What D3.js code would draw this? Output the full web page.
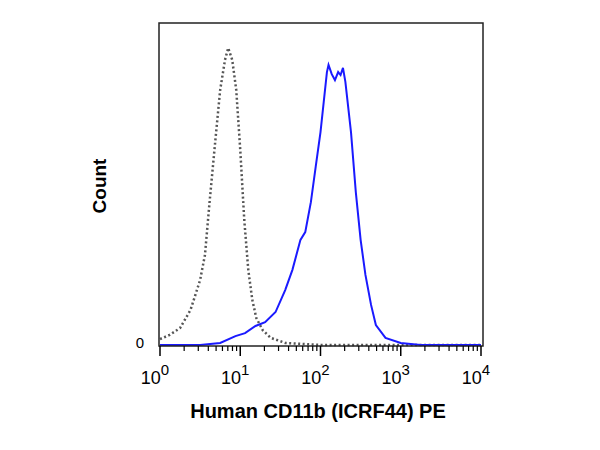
<!DOCTYPE html>
<html><head><meta charset="utf-8">
<script src="https://cdn.jsdelivr.net/npm/d3@7"></script>
<style>body{margin:0;background:#fff}</style>
</head><body>
<svg id="chart" width="600" height="450"></svg>
<script>
// log10 of intensity, and count (% of max)
var isoLog = [0,0.12,0.25,0.38,0.44,0.5,0.56,0.62,0.69,0.75,0.81,0.85,0.9,0.95,1.0,1.05,1.1,1.15,1.2,1.28,1.38,1.56,2.0,4.0];
var isoCount = [2,3.4,5.7,11.8,16.8,21.9,30.3,48.8,69,85.9,96,100,96,85.9,65.7,42.1,25.3,15.2,9.1,5,2.4,0.7,0,0];
var cdLog = [0,0.5,0.75,0.94,1.06,1.19,1.31,1.44,1.56,1.65,1.75,1.81,1.88,1.94,2.0,2.04,2.08,2.1,2.14,2.18,2.22,2.25,2.28,2.31,2.38,2.44,2.5,2.56,2.63,2.69,2.81,3.0,3.25,4.0];
var cdCount = [0,0,0.7,3,4,6.4,7.7,11.1,18.5,25.3,35.4,38,48.1,60,71.7,81.8,91.9,94.3,91.2,89.2,91.9,90.9,93.3,88.6,71.7,51.5,35.4,23.6,13.5,6.7,2.4,0.7,0,0];
var xTicks = [0,1,2,3,4];

var svg = d3.select("#chart");
var mLeft = 159, mRight = 483, mTop = 23, mBottom = 346;
var font = "Liberation Sans, Arial, sans-serif";

var x = d3.scaleLog().domain([1, 1e4]).range([mLeft + 1, mRight - 2]);
var y = d3.scaleLinear().domain([0, 100]).range([mBottom - 1, 48]);

var line = d3.line().x(d => x(Math.pow(10, d[0]))).y(d => y(d[1]));

svg.append("path").datum(isoLog.map((v, i) => [v, isoCount[i]]))
   .attr("d", line).attr("fill", "none")
   .attr("stroke", "#555").attr("stroke-width", 2.5).attr("stroke-dasharray", "2,2.5");

svg.append("path").datum(cdLog.map((v, i) => [v, cdCount[i]]))
   .attr("d", line).attr("fill", "none")
   .attr("stroke", "#1a1aff").attr("stroke-width", 2);

svg.append("rect").attr("x", mLeft).attr("y", mTop)
   .attr("width", mRight - mLeft).attr("height", mBottom - mTop)
   .attr("fill", "none").attr("stroke", "#222").attr("stroke-width", 1.5);

// ticks
var minor = [];
for (var e = 0; e < 4; e++) for (var m = 2; m <= 9; m++) minor.push(m * Math.pow(10, e));
svg.selectAll(".minor").data(minor).enter().append("line")
   .attr("x1", d => x(d)).attr("x2", d => x(d))
   .attr("y1", mBottom).attr("y2", mBottom + 5)
   .attr("stroke", "#000").attr("stroke-width", 1.2);
svg.selectAll(".major").data(xTicks).enter().append("line")
   .attr("x1", d => x(Math.pow(10, d))).attr("x2", d => x(Math.pow(10, d)))
   .attr("y1", mBottom).attr("y2", mBottom + 10)
   .attr("stroke", "#000").attr("stroke-width", 1.5);

var lbl = svg.selectAll(".tl").data(xTicks).enter().append("text")
   .attr("x", d => x(Math.pow(10, d)) - 5).attr("y", 384)
   .attr("text-anchor", "middle")
   .attr("font-family", font).attr("font-size", 18);
lbl.append("tspan").text("10");
lbl.append("tspan").attr("dy", -9).attr("font-size", 15).text(d => d);

svg.append("text").attr("x", 140).attr("y", 348).attr("text-anchor", "middle")
   .attr("font-family", font).attr("font-size", 15).text("0");

svg.append("text").attr("x", 318).attr("y", 418).attr("text-anchor", "middle")
   .attr("font-family", font).attr("font-size", 20).attr("font-weight", "bold")
   .text("Human CD11b (ICRF44) PE");
svg.append("text").attr("transform", "translate(106,186) rotate(-90)").attr("text-anchor", "middle")
   .attr("font-family", font).attr("font-size", 19).attr("font-weight", "bold")
   .text("Count");
</script>
</body></html>
